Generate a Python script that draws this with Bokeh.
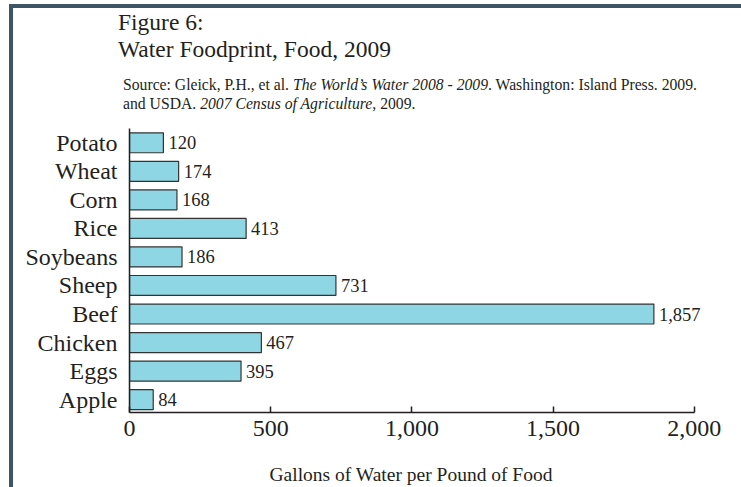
from bokeh.plotting import figure
from bokeh.models import (Range1d, FixedTicker, NumeralTickFormatter, Div,
                          ColumnDataSource)
from bokeh.layouts import column
from bokeh.core.properties import value
from bokeh.embed import file_html
from bokeh.resources import INLINE

# ---- data ----
foods = ["Potato", "Wheat", "Corn", "Rice", "Soybeans", "Sheep", "Beef",
         "Chicken", "Eggs", "Apple"]
gallons = [120, 174, 168, 413, 186, 731, 1857, 467, 395, 84]
x_ticks = [0, 500, 1000, 1500, 2000]

title1 = "Figure 6:"
title2 = "Water Foodprint, Food, 2009"
src1_a = "Source: Gleick, P.H., et al. "
src1_b = "The World\u2019s Water 2008 - 2009"
src1_c = ". Washington: Island Press. 2009."
src2_a = "and USDA. "
src2_b = "2007 Census of Agriculture,"
src2_c = " 2009."
x_title = "Gallons of Water per Pound of Food"

FONT = "Liberation Serif"
INK = "#231f20"
BORDER = "#3e5566"

n = len(foods)
ypos = [n - 1 - i for i in range(n)]
src = ColumnDataSource(dict(y=ypos, v=gallons, lab=[f"{g:,}" for g in gallons]))

p = figure(width=728, height=337, output_backend="svg", toolbar_location=None,
           x_range=Range1d(0, 2100), y_range=Range1d(-0.45, n - 0.5),
           min_border_left=116, min_border_right=19, min_border_top=10,
           min_border_bottom=43, margin=0)
p.outline_line_color = None
p.xgrid.visible = False
p.ygrid.visible = False
p.background_fill_color = "white"
p.border_fill_color = "white"

p.hbar(y="y", right="v", left=0, height=0.7, source=src,
       fill_color="#8fd6e4", line_color="#333333", line_width=1.2)
p.text(x="v", y="y", text="lab", source=src, x_offset=5,
       text_baseline="middle", text_align="left",
       text_font=value(FONT), text_font_size="18.5px", text_color=INK)

# x axis
xa = p.xaxis[0]
xa.bounds = (x_ticks[0], x_ticks[-1])
xa.ticker = FixedTicker(ticks=x_ticks)
xa.formatter = NumeralTickFormatter(format="0,0")
xa.major_tick_in = 6
xa.major_tick_out = 0
xa.minor_tick_line_color = None
xa.axis_line_color = INK
xa.axis_line_width = 1.5
xa.major_tick_line_color = INK
xa.major_tick_line_width = 1.5
xa.major_label_text_font = FONT
xa.major_label_text_font_size = "24px"
xa.major_label_text_color = INK
xa.major_label_standoff = 8

# y axis
ya = p.yaxis[0]
ya.ticker = FixedTicker(ticks=ypos)
ya.major_label_overrides = {yy: f for yy, f in zip(ypos, foods)}
ya.major_tick_in = 0
ya.major_tick_out = 0
ya.minor_tick_line_color = None
ya.axis_line_color = INK
ya.axis_line_width = 1.5
ya.major_label_text_font = FONT
ya.major_label_text_font_size = "24px"
ya.major_label_text_color = INK
ya.major_label_standoff = 12

header_html = (
    f'<div style="font-family:\'{FONT}\';color:{INK};padding-left:105px;">'
    f'<div style="font-size:23.5px;line-height:27px;margin-top:1px;white-space:nowrap;">{title1}</div>'
    f'<div style="font-size:23.5px;line-height:27px;white-space:nowrap;">{title2}</div>'
    f'<div style="font-size:15.7px;line-height:19px;margin-top:12px;padding-left:5px;white-space:nowrap;">'
    f'{src1_a}<i>{src1_b}</i>{src1_c}<br>{src2_a}<i>{src2_b}</i>{src2_c}</div>'
    f'</div>'
)
header = Div(text=header_html, width=728, height=110, margin=0)

footer_html = (
    f'<div style="font-family:\'{FONT}\';color:{INK};font-size:19.5px;'
    f'line-height:24px;margin-top:8px;margin-left:98px;width:600px;'
    f'text-align:center;white-space:nowrap;">{x_title}</div>'
)
footer = Div(text=footer_html, width=728, height=32, margin=0)

layout = column(header, p, footer, margin=0,
                styles={"margin-left": "9px", "margin-top": "4px",
                        "border-left": f"4px solid {BORDER}",
                        "border-top": f"4px solid {BORDER}",
                        "background-color": "white"})

open("out.html", "w").write(file_html(layout, INLINE))
